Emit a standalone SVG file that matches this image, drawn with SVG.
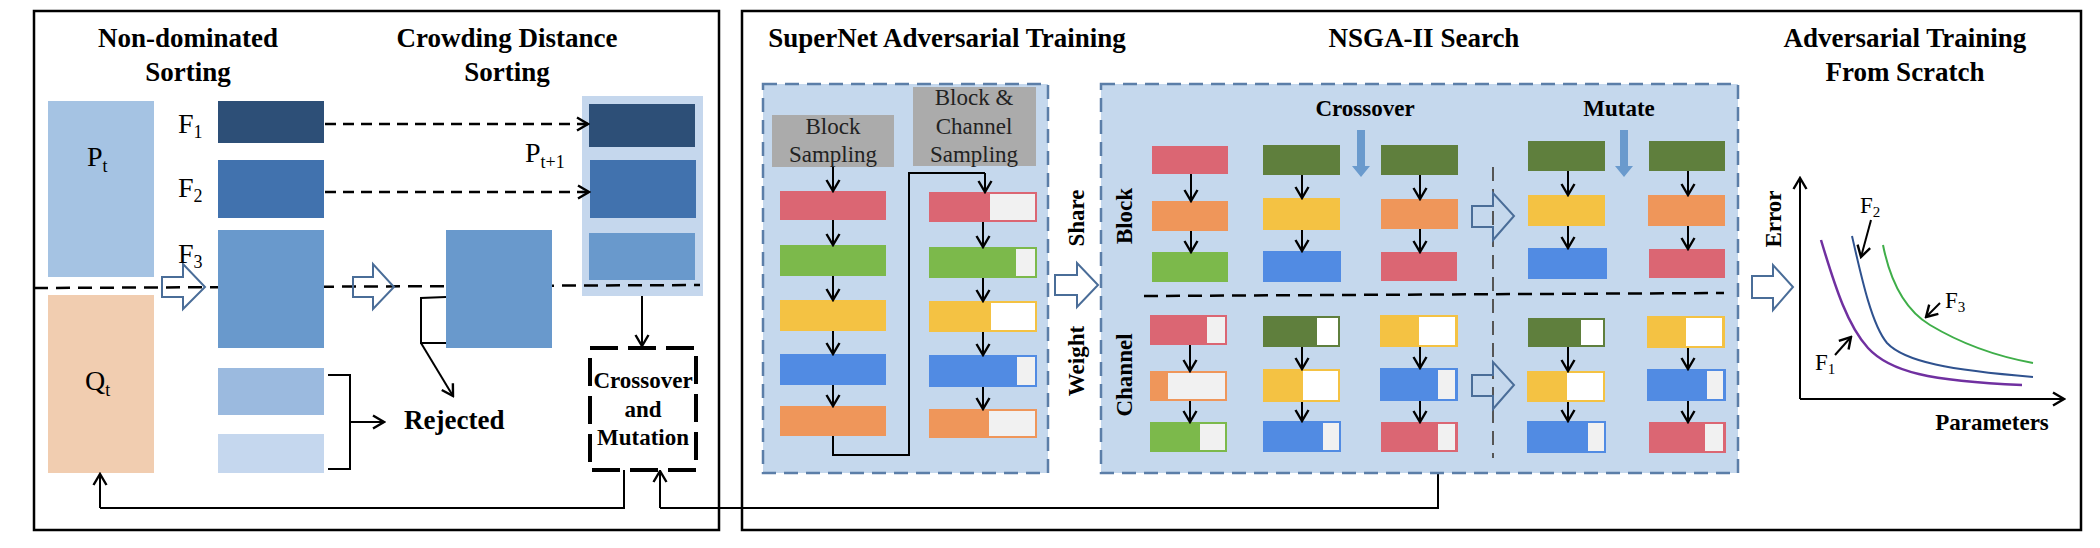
<svg xmlns="http://www.w3.org/2000/svg" width="2100" height="548" viewBox="0 0 2100 548">
<defs>
<style>
.frame{fill:none;stroke:#000;stroke-width:2.5}
.title{font-family:"Liberation Serif","Times New Roman",serif;font-weight:bold;font-size:27px;fill:#000;text-anchor:middle}
.btxt{font-family:"Liberation Serif","Times New Roman",serif;font-weight:bold;font-size:23px;fill:#000;text-anchor:middle}
.rtxt{font-family:"Liberation Serif","Times New Roman",serif;font-size:23px;fill:#222;text-anchor:middle}
.lbl{font-family:"Liberation Serif","Times New Roman",serif;font-size:28px;fill:#000}
.glbl{font-family:"Liberation Serif","Times New Roman",serif;font-size:23px;fill:#000}
.sub{font-size:18px}
.gsub{font-size:15px}
.ln{fill:none;stroke:#000;stroke-width:2}
.arr{fill:none;stroke:#000;stroke-width:2;marker-end:url(#ah)}
.darr{fill:none;stroke:#000;stroke-width:2.5;stroke-dasharray:11 7;marker-end:url(#ah)}
.dline{fill:none;stroke:#000;stroke-width:2.5;stroke-dasharray:14 8}
.gline{fill:none;stroke:#555;stroke-width:2;stroke-dasharray:14 8}
.cont{fill:#c5d8ed;stroke:#5b7ea8;stroke-width:2.5;stroke-dasharray:14 8}
.hollow{fill:none;stroke:#4a6d98;stroke-width:2}
.gray{fill:#ababab}
.red{fill:#db6673}
.grn{fill:#7cb94b}
.dgr{fill:#5f7f3d}
.yel{fill:#f4c243}
.blu{fill:#518be3}
.org{fill:#ef965a}
.in{fill:#f1f1f1}
.wh{fill:#ffffff}
.bluearr{fill:#6a9acd}
</style>
<marker id="ah" viewBox="0 0 16 16" refX="14" refY="8" markerWidth="16" markerHeight="16" markerUnits="userSpaceOnUse" orient="auto">
<path d="M3,1.5 L14,8 L3,14.5" fill="none" stroke="#000" stroke-width="2.4" stroke-dasharray="none"/>
</marker>
</defs>

<rect x="0" y="0" width="2100" height="548" fill="#fff"/>

<!-- Frames -->
<g id="frame-left"><rect class="frame" x="34" y="11" width="685" height="519"/></g>
<g id="frame-right"><rect class="frame" x="742" y="11" width="1339" height="519"/></g>

<!-- Left panel titles -->
<g id="title-nds">
<text class="title" x="188" y="47">Non-dominated</text>
<text class="title" x="188" y="81">Sorting</text>
</g>
<g id="title-cds">
<text class="title" x="507" y="47">Crowding Distance</text>
<text class="title" x="507" y="81">Sorting</text>
</g>

<!-- Pt+1 container -->
<g id="pt1">
<rect x="582" y="96" width="121" height="200" fill="#c5d7ed"/>
<rect x="589" y="104" width="106" height="43" fill="#2d4f77"/>
<rect x="590" y="160" width="106" height="58" fill="#4172ae"/>
<rect x="589" y="233" width="106" height="47" fill="#6999cc"/>
<text class="lbl" x="525" y="162">P<tspan class="sub" dy="6">t+1</tspan></text>
</g>

<!-- Pt / Qt -->
<g id="pt">
<rect x="48" y="101" width="106" height="176" fill="#a5c3e3"/>
<text class="lbl" x="87" y="166" font-size="31">P<tspan class="sub" dy="6">t</tspan></text>
</g>
<g id="qt">
<rect x="48" y="295" width="106" height="178" fill="#f1cdb0"/>
<text class="lbl" x="85" y="390" font-size="31">Q<tspan class="sub" dy="6">t</tspan></text>
</g>

<!-- connectors, left panel -->
<g id="connectors-left">
<path class="dline" d="M34,288 L700,285"/>
<path class="hollow" d="M162,277 H183 V264 L205,287 L183,309 V297 H162 Z"/>
<path class="hollow" d="M353,277 H373 V264 L394,287 L373,309 V297 H353 Z"/>
<path class="darr" d="M325,124 H588"/>
<path class="darr" d="M325,192 H589"/>
<path class="ln" d="M446,297 L421,298 V343 H446"/>
<path class="arr" d="M421,343 L453,396"/>
<path class="ln" d="M328,375 H350 V469 H328"/>
<path class="arr" d="M350,422 H384"/>
<path class="arr" d="M642,296 V346"/>
<path class="ln" d="M624,470 V508 H100"/>
<path class="arr" d="M100,508 V474"/>
<path class="ln" d="M1438,473 V508 H660"/>
<path class="arr" d="M660,508 V471"/>
</g>

<!-- F fronts -->
<g id="fronts">
<rect x="218" y="101" width="106" height="42" fill="#2d4f77"/>
<rect x="218" y="160" width="106" height="58" fill="#4172ae"/>
<rect x="218" y="230" width="106" height="118" fill="#6999cc"/>
<rect x="218" y="368" width="106" height="47" fill="#9bbadf"/>
<rect x="218" y="434" width="106" height="39" fill="#c5d7ee"/>
<text class="lbl" x="178" y="133">F<tspan class="sub" dy="5">1</tspan></text>
<text class="lbl" x="178" y="197">F<tspan class="sub" dy="5">2</tspan></text>
<text class="lbl" x="178" y="263">F<tspan class="sub" dy="5">3</tspan></text>
</g>

<g id="cd-box">
<rect x="446" y="230" width="106" height="118" fill="#6999cc"/>
</g>

<g id="rejected">
<text class="title" x="404" y="429" style="text-anchor:start">Rejected</text>
</g>

<g id="cm-box">
<rect x="590" y="348" width="106" height="122" fill="#fff" stroke="#000" stroke-width="4" stroke-dasharray="28 10"/>
<text class="btxt" x="643" y="388" font-size="22">Crossover</text>
<text class="btxt" x="643" y="417" font-size="22">and</text>
<text class="btxt" x="643" y="445" font-size="22">Mutation</text>
</g>

<!-- Right frame titles -->
<g id="title-supernet">
<text class="title" x="947" y="47">SuperNet Adversarial Training</text>
</g>
<g id="title-nsga">
<text class="title" x="1424" y="47">NSGA-II Search</text>
</g>
<g id="title-adv">
<text class="title" x="1905" y="47">Adversarial Training</text>
<text class="title" x="1905" y="81">From Scratch</text>
</g>

<g id="supernet">
<rect class="cont" x="763" y="84" width="285" height="389"/>
<rect class="gray" x="772" y="115" width="122" height="52"/>
<text class="rtxt" x="833" y="134">Block</text>
<text class="rtxt" x="833" y="162">Sampling</text>
<rect class="gray" x="913" y="87" width="123" height="79"/>
<text class="rtxt" x="974" y="105">Block &amp;</text>
<text class="rtxt" x="974" y="134">Channel</text>
<text class="rtxt" x="974" y="162">Sampling</text>
<rect class="red" x="780" y="191" width="106" height="29"/>
<rect class="grn" x="780" y="245" width="106" height="31"/>
<rect class="yel" x="780" y="300" width="106" height="31"/>
<rect class="blu" x="780" y="354" width="106" height="31"/>
<rect class="org" x="780" y="406" width="106" height="30"/>
<rect class="red" x="929" y="192" width="108" height="30"/><rect class="in" x="990" y="194" width="45" height="26"/>
<rect class="grn" x="929" y="247" width="108" height="31"/><rect class="in" x="1016" y="249" width="19" height="27"/>
<rect class="yel" x="929" y="301" width="108" height="31"/><rect class="wh" x="991" y="303" width="44" height="27"/>
<rect class="blu" x="929" y="355" width="108" height="32"/><rect class="in" x="1017" y="357" width="18" height="28"/>
<rect class="org" x="929" y="409" width="108" height="29"/><rect class="in" x="989" y="411" width="46" height="25"/>
</g>

<g id="supernet-connectors">
<path class="arr" d="M833,167 V191"/>
<path class="arr" d="M833,220 V245"/>
<path class="arr" d="M833,276 V300"/>
<path class="arr" d="M833,331 V354"/>
<path class="arr" d="M833,385 V406"/>
<path class="ln" d="M833,436 V455 H909 V173 H985"/>
<path class="arr" d="M985,173 V192"/>
<path class="arr" d="M983,222 V247"/>
<path class="arr" d="M983,278 V301"/>
<path class="arr" d="M983,332 V355"/>
<path class="arr" d="M983,387 V409"/>
<path class="hollow" d="M1055,275 H1077 V263 L1098,285 L1077,307 V295 H1055 Z"/>
</g>

<g id="share-weight">
<text class="btxt" transform="translate(1084,218) rotate(-90)">Share</text>
<text class="btxt" transform="translate(1084,361) rotate(-90)">Weight</text>
</g>

<g id="nsga">
<rect class="cont" x="1101" y="84" width="637" height="389"/>
<text class="btxt" transform="translate(1132,216) rotate(-90)">Block</text>
<text class="btxt" transform="translate(1132,375) rotate(-90)">Channel</text>
<text class="btxt" x="1365" y="116">Crossover</text>
<text class="btxt" x="1619" y="116">Mutate</text>
<path class="bluearr" d="M1357,130 H1365 V166 H1370 L1361,177 L1352,166 H1357 Z"/>
<path class="bluearr" d="M1620,130 H1628 V166 H1633 L1624,177 L1615,166 H1620 Z"/>
<path class="dline" d="M1144,296 L1724,293"/>
<path class="gline" d="M1493,167 V458"/>
<path class="hollow" d="M1472,206 H1493 V193 L1514,216 L1493,240 V227 H1472 Z"/>
<path class="hollow" d="M1472,375 H1493 V362 L1514,385 L1493,409 V396 H1472 Z"/>
<rect class="red" x="1152" y="146" width="76" height="28"/>
<rect class="org" x="1152" y="201" width="76" height="30"/>
<rect class="grn" x="1152" y="252" width="76" height="30"/>
<rect class="dgr" x="1263" y="145" width="77" height="30"/>
<rect class="yel" x="1263" y="198" width="77" height="32"/>
<rect class="blu" x="1263" y="251" width="78" height="31"/>
<rect class="dgr" x="1381" y="145" width="77" height="30"/>
<rect class="org" x="1381" y="199" width="77" height="30"/>
<rect class="red" x="1381" y="252" width="76" height="29"/>
<rect class="dgr" x="1528" y="141" width="77" height="30"/>
<rect class="yel" x="1528" y="195" width="77" height="31"/>
<rect class="blu" x="1528" y="248" width="79" height="31"/>
<rect class="dgr" x="1649" y="141" width="76" height="30"/>
<rect class="org" x="1648" y="195" width="77" height="31"/>
<rect class="red" x="1649" y="249" width="76" height="29"/>
<rect class="red" x="1150" y="315" width="77" height="30"/><rect class="in" x="1207" y="317" width="18" height="26"/>
<rect class="org" x="1150" y="371" width="77" height="30"/><rect class="in" x="1168" y="373" width="57" height="26"/>
<rect class="grn" x="1150" y="422" width="77" height="30"/><rect class="in" x="1200" y="424" width="25" height="26"/>
<rect class="dgr" x="1263" y="316" width="77" height="31"/><rect class="wh" x="1317" y="318" width="21" height="27"/>
<rect class="yel" x="1263" y="369" width="77" height="33"/><rect class="wh" x="1303" y="371" width="35" height="29"/>
<rect class="blu" x="1263" y="421" width="78" height="31"/><rect class="in" x="1323" y="423" width="16" height="27"/>
<rect class="yel" x="1380" y="315" width="78" height="32"/><rect class="wh" x="1419" y="317" width="36" height="28"/>
<rect class="blu" x="1380" y="368" width="78" height="33"/><rect class="in" x="1438" y="370" width="17" height="29"/>
<rect class="red" x="1381" y="422" width="77" height="30"/><rect class="in" x="1438" y="424" width="17" height="26"/>
<rect class="dgr" x="1528" y="318" width="77" height="29"/><rect class="wh" x="1581" y="320" width="22" height="25"/>
<rect class="yel" x="1527" y="371" width="78" height="31"/><rect class="wh" x="1567" y="373" width="36" height="27"/>
<rect class="blu" x="1527" y="421" width="79" height="32"/><rect class="in" x="1588" y="423" width="16" height="28"/>
<rect class="yel" x="1647" y="316" width="78" height="32"/><rect class="wh" x="1686" y="318" width="36" height="28"/>
<rect class="blu" x="1647" y="369" width="79" height="32"/><rect class="in" x="1707" y="371" width="16" height="28"/>
<rect class="red" x="1649" y="422" width="77" height="31"/><rect class="in" x="1705" y="424" width="18" height="27"/>
</g>

<g id="nsga-connectors">
<path class="arr" d="M1191,174 V201"/><path class="arr" d="M1191,231 V252"/>
<path class="arr" d="M1302,175 V198"/><path class="arr" d="M1302,230 V251"/>
<path class="arr" d="M1420,175 V199"/><path class="arr" d="M1420,229 V252"/>
<path class="arr" d="M1568,171 V195"/><path class="arr" d="M1568,226 V248"/>
<path class="arr" d="M1688,171 V195"/><path class="arr" d="M1688,226 V249"/>
<path class="arr" d="M1190,345 V371"/><path class="arr" d="M1190,401 V422"/>
<path class="arr" d="M1302,347 V369"/><path class="arr" d="M1302,402 V421"/>
<path class="arr" d="M1420,347 V368"/><path class="arr" d="M1420,401 V422"/>
<path class="arr" d="M1568,347 V371"/><path class="arr" d="M1568,402 V421"/>
<path class="arr" d="M1688,348 V369"/><path class="arr" d="M1688,401 V422"/>
<path class="hollow" d="M1752,276 H1773 V265 L1793,287 L1773,310 V298 H1752 Z"/>
</g>

<g id="graph">
<path class="arr" d="M1800,399 V178"/>
<path class="arr" d="M1800,399 H2064"/>
<text class="btxt" transform="translate(1781,219) rotate(-90)">Error</text>
<text class="btxt" x="1992" y="430">Parameters</text>
<path d="M1821,240 C1836,290 1848,326 1868,348 C1890,372 1930,381 2022,385" fill="none" stroke="#7030a0" stroke-width="2.5"/>
<path d="M1852,236 C1862,280 1872,325 1887,343 C1905,362 1950,370 2033,377" fill="none" stroke="#2f528f" stroke-width="2"/>
<path d="M1883,245 C1890,280 1905,310 1930,325 C1960,343 1995,356 2033,363" fill="none" stroke="#3fae49" stroke-width="2"/>
<text class="glbl" x="1860" y="213">F<tspan class="gsub" dy="4">2</tspan></text>
<text class="glbl" x="1945" y="308">F<tspan class="gsub" dy="4">3</tspan></text>
<text class="glbl" x="1815" y="370">F<tspan class="gsub" dy="4">1</tspan></text>
<path class="arr" d="M1871,220 L1861,257"/>
<path class="arr" d="M1940,303 L1926,317"/>
<path class="arr" d="M1835,355 L1851,337"/>
</g>
</svg>
